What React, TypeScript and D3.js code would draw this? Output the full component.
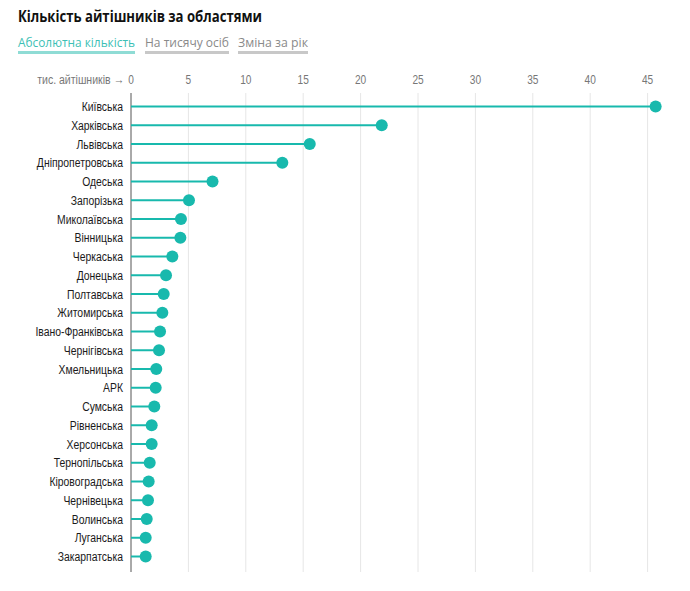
import React from "react";
import * as d3 from "d3";

const regions: string[] = [
  "Київська", "Харківська", "Львівська", "Дніпропетровська", "Одеська",
  "Запорізька", "Миколаївська", "Вінницька", "Черкаська", "Донецька",
  "Полтавська", "Житомирська", "Івано-Франківська", "Чернігівська", "Хмельницька",
  "АРК", "Сумська", "Рівненська", "Херсонська", "Тернопільська",
  "Кіровоградська", "Чернівецька", "Волинська", "Луганська", "Закарпатська",
];

// thousands of IT specialists per region
const itCount: number[] = [
  45.7, 21.84, 15.57, 13.18, 7.1,
  5.05, 4.35, 4.3, 3.6, 3.05,
  2.85, 2.73, 2.53, 2.44, 2.2,
  2.15, 2.03, 1.8, 1.8, 1.63,
  1.54, 1.48, 1.37, 1.28, 1.28,
];

const xTicks: number[] = [0, 5, 10, 15, 20, 25, 30, 35, 40, 45];
const tabs: string[] = ["Абсолютна кількість", "На тисячу осіб", "Зміна за рік"];

const W = 690;
const H = 591;
const TEAL = "#18b9ad";
const FONT = "'Liberation Sans', Arial, sans-serif";
const UI_FONT = "'Open Sans', 'Noto Sans', sans-serif";

// narrow text: horizontally squeezed label anchored at (x, y)
function NarrowText(props: {
  x: number;
  y: number;
  sx: number;
  anchor: "start" | "middle" | "end";
  size: number;
  fill: string;
  weight?: number;
  children: React.ReactNode;
}) {
  return (
    <g transform={`translate(${props.x},${props.y}) scale(${props.sx},1)`}>
      <text
        x={0}
        y={0}
        textAnchor={props.anchor}
        fontFamily={FONT}
        fontSize={props.size}
        fontWeight={props.weight ?? 400}
        fill={props.fill}
      >
        {props.children}
      </text>
    </g>
  );
}

export default function App() {
  const x = d3.scaleLinear().domain([0, 45]).range([131, 647.6]);
  const y = d3
    .scalePoint<string>()
    .domain(regions)
    .range([106.5, 556.5]);

  const gridTop = 93;
  const gridBottom = 572;

  const tabX = [18, 145, 238];
  const tabW = [117, 84, 70];

  return (
    <svg
      width={W}
      height={H}
      style={{ position: "absolute", left: 0, top: 0, background: "#fff" }}
    >
      <text
        x={18}
        y={22}
        fontFamily={UI_FONT}
        fontWeight={700}
        fontSize={15.5}
        textLength={244}
        lengthAdjust="spacingAndGlyphs"
        fill="#111"
      >
        Кількість айтішників за областями
      </text>

      {tabs.map((t, i) => (
        <g key={t}>
          <text
            x={tabX[i]}
            y={47}
            fontFamily={UI_FONT}
            fontSize={13.5}
            textLength={tabW[i]}
            lengthAdjust="spacingAndGlyphs"
            fill={i === 0 ? "#3dbfb5" : "#8a8a8a"}
          >
            {t}
          </text>
          <rect
            x={tabX[i]}
            y={51}
            width={tabW[i]}
            height={3}
            fill={i === 0 ? "#8fdcd5" : "#c8c8c8"}
          />
        </g>
      ))}

      {/* axis header */}
      <NarrowText x={124} y={84} sx={0.78} anchor="end" size={13.5} fill="#777">
        тис. айтішників →
      </NarrowText>
      {xTicks.map((t) => (
        <g key={t}>
          <NarrowText x={x(t)} y={84} sx={0.75} anchor="middle" size={13.5} fill="#777">
            {t}
          </NarrowText>
          <line
            x1={x(t)}
            x2={x(t)}
            y1={gridTop}
            y2={gridBottom}
            stroke={t === 0 ? "#555" : "#e6e6e6"}
            strokeWidth={1}
          />
        </g>
      ))}

      {regions.map((r, i) => {
        const cy = y(r) as number;
        return (
          <g key={r}>
            <NarrowText x={123} y={cy + 4.5} sx={0.77} anchor="end" size={13.5} fill="#1a1a1a">
              {r}
            </NarrowText>
            <line x1={x(0)} x2={x(itCount[i])} y1={cy} y2={cy} stroke={TEAL} strokeWidth={2} />
            <circle cx={x(itCount[i])} cy={cy} r={6} fill={TEAL} />
          </g>
        );
      })}
    </svg>
  );
}
